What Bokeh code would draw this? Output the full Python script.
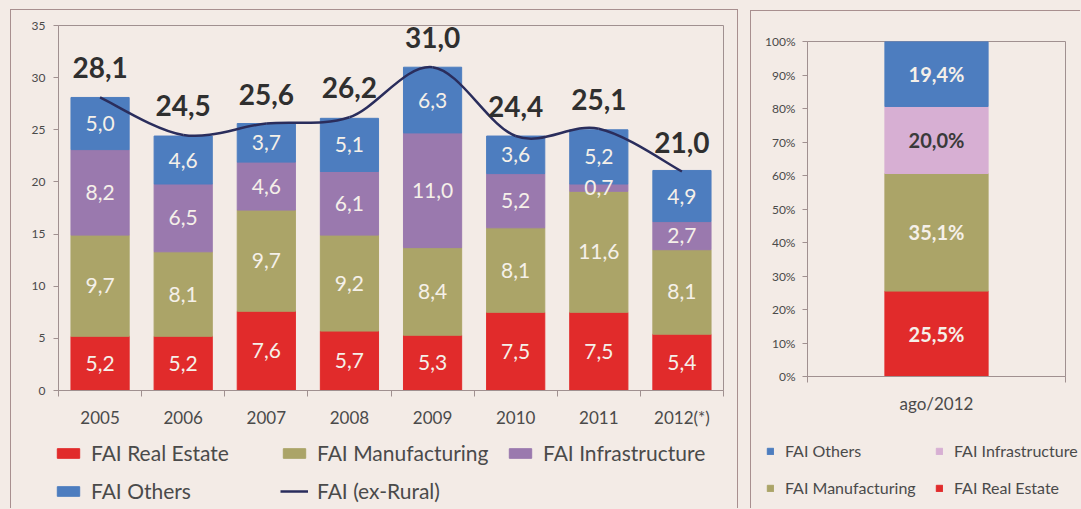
import numpy as np
from bokeh.plotting import figure
from bokeh.models import (ColumnDataSource, FixedTicker, SingleIntervalTicker, Legend,
                          LegendItem, NumeralTickFormatter, Range1d)
from bokeh.core.properties import value
from bokeh.embed import file_html
from bokeh.resources import INLINE

# ---------------- data ----------------
categories = ["2005", "2006", "2007", "2008", "2009", "2010", "2011", "2012(*)"]
real_estate = [5.2, 5.2, 7.6, 5.7, 5.3, 7.5, 7.5, 5.4]
manufacturing = [9.7, 8.1, 9.7, 9.2, 8.4, 8.1, 11.6, 8.1]
infrastructure = [8.2, 6.5, 4.6, 6.1, 11.0, 5.2, 0.7, 2.7]
others = [5.0, 4.6, 3.7, 5.1, 6.3, 3.6, 5.2, 4.9]
totals = [28.1, 24.5, 25.6, 26.2, 31.0, 24.4, 25.1, 21.0]

snapshot_label = "ago/2012"
snap_real_estate = [25.5]
snap_manufacturing = [35.1]
snap_infrastructure = [20.0]
snap_others = [19.4]

# ---------------- style ----------------
FONT = "Lato"
BG = "#f3ebe6"
RED = "#e12b2b"
OLIVE = "#aba468"
PURPLE = "#9a79ae"
BLUE = "#4d7dbf"
PINK = "#d7afd3"
NAVY = "#2a2d5c"
AXIS = "#a09090"
PANEL = "#a88f8f"
TXT = "#4a4a4a"
LIGHT = "#f5f0e9"


def fmt(v, suffix=""):
    return f"{v:.1f}".replace(".", ",") + suffix


def style_axes(fig):
    for ax in fig.axis:
        ax.axis_line_color = AXIS
        ax.major_tick_line_color = AXIS
        ax.minor_tick_line_color = AXIS
        ax.major_label_text_font = FONT
        ax.major_label_text_color = TXT
    fig.grid.visible = False


def legend_figure(width, left, top, height):
    f = figure(width=width, height=height, x_range=Range1d(-2, -1), y_range=Range1d(-2, -1),
               output_backend="svg", toolbar_location=None, min_border=0,
               x_axis_location=None, y_axis_location=None,
               background_fill_alpha=0, border_fill_alpha=0, outline_line_color=None)
    f.grid.visible = False
    f.styles = {"position": "absolute", "left": f"{left}px", "top": f"{top}px"}
    return f


# ================= left chart =================
xs = list(range(1, len(categories) + 1))
src = ColumnDataSource(dict(x=xs, re=real_estate, mf=manufacturing,
                            inf=infrastructure, ot=others, tot=totals))

p = figure(width=728, height=499, x_range=Range1d(0.5, len(categories) + 0.5),
           y_range=Range1d(0, 35), output_backend="svg", toolbar_location=None,
           min_border_left=47, min_border_right=16, min_border_top=15,
           min_border_bottom=119, background_fill_color=BG, border_fill_color=BG,
           outline_line_color=AXIS)
p.styles = {"position": "absolute", "left": "10px", "top": "9px",
            "border-top": f"1px solid {PANEL}", "border-left": f"1px solid {PANEL}",
            "border-right": f"1px solid {PANEL}"}

stack_cols = ["re", "mf", "inf", "ot"]
left_colors = [RED, OLIVE, PURPLE, BLUE]
p.vbar_stack(stack_cols, x="x", width=0.7, color=left_colors, source=src)

stack = np.array([real_estate, manufacturing, infrastructure, others])
mids = np.cumsum(stack, axis=0) - stack / 2
seg_x = np.tile(xs, stack.shape[0])
p.text(x=list(seg_x), y=list(mids.flatten()), text=[fmt(v) for v in stack.flatten()],
       text_font=value(FONT), text_font_size="21px", text_color=LIGHT,
       text_align="center", text_baseline="middle")

# smoothed total line (Catmull-Rom style Bezier from the data points)
n = len(xs)
P = np.array([xs, totals], dtype=float).T
x0, y0, x1, y1, cx0, cy0, cx1, cy1 = ([] for _ in range(8))
for i in range(n - 1):
    pa = P[max(i - 1, 0)]
    pb = P[i]
    pc = P[i + 1]
    pd = P[min(i + 2, n - 1)]
    c1 = pb + (pc - pa) / 6.0
    c2 = pc - (pd - pb) / 6.0
    x0.append(pb[0]); y0.append(pb[1]); x1.append(pc[0]); y1.append(pc[1])
    cx0.append(c1[0]); cy0.append(c1[1]); cx1.append(c2[0]); cy1.append(c2[1])
p.bezier(x0=x0, y0=y0, x1=x1, y1=y1, cx0=cx0, cy0=cy0, cx1=cx1, cy1=cy1,
         line_color=NAVY, line_width=2.5)

p.text(x=xs, y=totals, text=[fmt(t) for t in totals], y_offset=-19,
       text_font=value(FONT), text_font_size="28px", text_font_style="bold",
       text_color="#2f2f2f", text_align="center", text_baseline="bottom")

p.xaxis.ticker = FixedTicker(ticks=xs, minor_ticks=[x - 0.5 for x in xs] + [xs[-1] + 0.5])
p.xaxis.major_label_overrides = {x: c for x, c in zip(xs, categories)}
p.xaxis.major_tick_out = 0
p.xaxis.major_tick_in = 0
p.xaxis.minor_tick_out = 6
p.xaxis.minor_tick_in = 0
p.xaxis.major_label_standoff = 10
p.xaxis.major_label_text_font_size = "17px"
p.yaxis.ticker = SingleIntervalTicker(interval=5)
p.yaxis.major_tick_out = 5
p.yaxis.major_tick_in = 0
p.yaxis.major_label_standoff = 8
p.yaxis.major_label_text_font_size = "12px"
style_axes(p)
p.yaxis.minor_tick_line_color = None

# legend for the left chart (own canvas below the plot area; its swatch
# renderers use the same data, outside the visible range)
lf = legend_figure(727, 11, 425, 84)
lbars = lf.vbar_stack(stack_cols, x="x", width=0.7, color=left_colors, source=src)
lline = lf.line(x="x", y="tot", source=src, line_color=NAVY, line_width=2.5)
labels_left = ["FAI Real Estate", "FAI Manufacturing", "FAI Infrastructure", "FAI Others"]
items = [LegendItem(label=l, renderers=[r]) for l, r in zip(labels_left, lbars)]
items.append(LegendItem(label="FAI (ex-Rural)", renderers=[lline]))
leg = Legend(items=items, location=(43, 6), orientation="horizontal", ncols=3,
             glyph_width=28, glyph_height=12, label_standoff=9, label_width=176,
             spacing=13, padding=0, margin=0, label_text_font=FONT,
             label_text_font_size="21px", label_text_color=TXT,
             background_fill_alpha=0, border_line_alpha=0)
lf.add_layout(leg, "center")

# ================= right chart =================
src2 = ColumnDataSource(dict(x=[0.5],
                             re=[v / 100 for v in snap_real_estate],
                             mf=[v / 100 for v in snap_manufacturing],
                             inf=[v / 100 for v in snap_infrastructure],
                             ot=[v / 100 for v in snap_others]))
p2 = figure(width=330, height=498, x_range=Range1d(0, 1), y_range=Range1d(0, 1),
            output_backend="svg", toolbar_location=None,
            min_border_left=56, min_border_right=16, min_border_top=30,
            min_border_bottom=133, background_fill_color=BG, border_fill_color=BG,
            outline_line_color=AXIS)
p2.styles = {"position": "absolute", "left": "750px", "top": "10px",
             "border-top": f"1px solid {PANEL}", "border-left": f"1px solid {PANEL}"}
right_colors = [RED, OLIVE, PINK, BLUE]
p2.vbar_stack(stack_cols, x="x", width=0.4, color=right_colors, source=src2)
snap = np.array([snap_real_estate[0], snap_manufacturing[0],
                 snap_infrastructure[0], snap_others[0]])
smids = (np.cumsum(snap) - snap / 2) / 100
p2.text(x=[0.5] * 4, y=list(smids), text=[fmt(v, "%") for v in snap],
        text_font=value(FONT), text_font_size="20px", text_font_style="bold",
        text_color=[LIGHT, LIGHT, "#3a3a3a", LIGHT],
        text_align="center", text_baseline="middle")
p2.xaxis.ticker = FixedTicker(ticks=[0.5], minor_ticks=[0, 1])
p2.xaxis.major_label_overrides = {0.5: snapshot_label}
p2.xaxis.major_tick_out = 0
p2.xaxis.major_tick_in = 0
p2.xaxis.minor_tick_out = 6
p2.xaxis.minor_tick_in = 0
p2.xaxis.major_label_standoff = 10
p2.xaxis.major_label_text_font_size = "17px"
p2.yaxis.ticker = FixedTicker(ticks=[i / 10 for i in range(11)])
p2.yaxis.formatter = NumeralTickFormatter(format="0%")
p2.yaxis.major_tick_out = 5
p2.yaxis.major_tick_in = 0
p2.yaxis.major_label_standoff = 7
p2.yaxis.major_label_text_font_size = "12px"
style_axes(p2)
p2.yaxis.minor_tick_line_color = None

rf = legend_figure(330, 751, 425, 84)
rbars = rf.vbar_stack(stack_cols, x="x", width=0.4, color=right_colors, source=src2)
rmap = {"FAI Real Estate": rbars[0], "FAI Manufacturing": rbars[1],
        "FAI Infrastructure": rbars[2], "FAI Others": rbars[3]}
labels_right = ["FAI Others", "FAI Infrastructure", "FAI Manufacturing", "FAI Real Estate"]
leg2 = Legend(items=[LegendItem(label=l, renderers=[rmap[l]]) for l in labels_right],
              location=(15, 12), orientation="horizontal", ncols=2,
              glyph_width=8, glyph_height=8, label_standoff=11, label_width=132,
              spacing=18, padding=0, margin=0, label_text_font=FONT,
              label_text_font_size="16px", label_text_color=TXT,
              background_fill_alpha=0, border_line_alpha=0)
rf.add_layout(leg2, "center")

html = file_html([p, p2, lf, rf], INLINE)
html = html.replace("</head>", f"<style>html,body{{background:{BG};}}</style></head>", 1)
open("out.html", "w").write(html)
